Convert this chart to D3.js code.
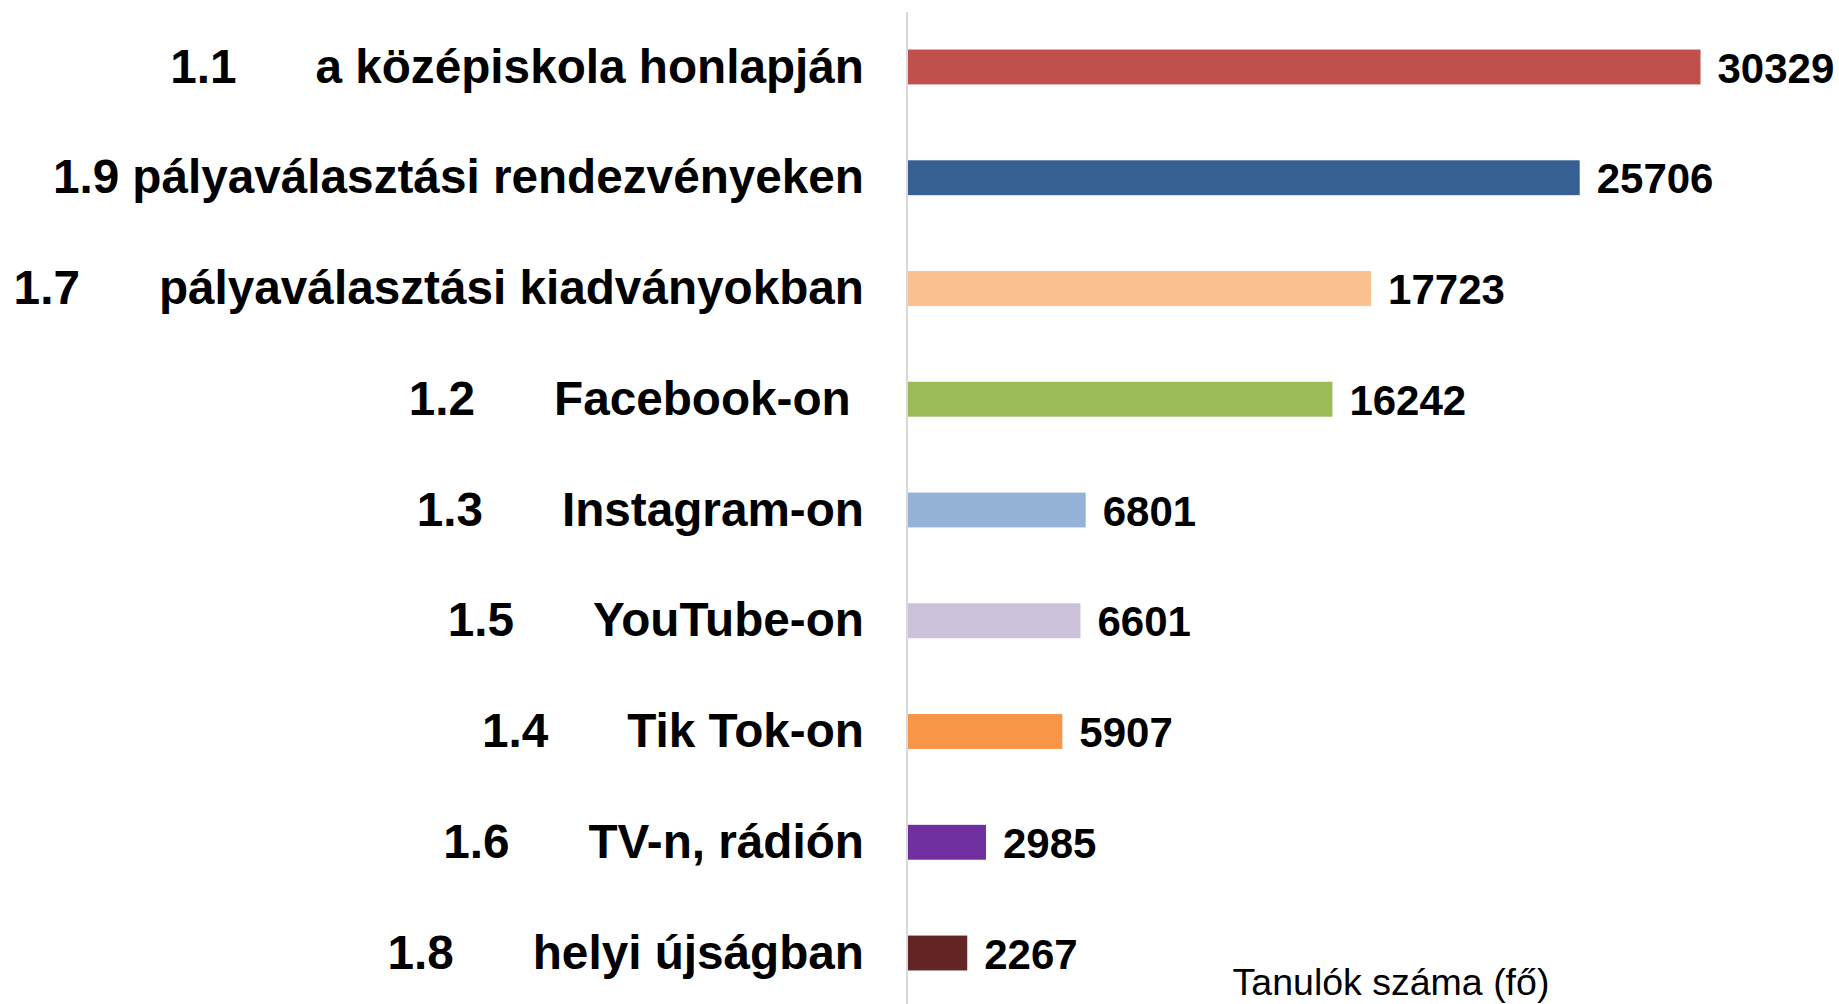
<!DOCTYPE html>
<html>
<head>
<meta charset="utf-8">
<script src="https://cdn.jsdelivr.net/npm/d3@7"></script>
<style>
  body { margin: 0; background: #fff; }
  svg text { font-family: "Liberation Sans", Arial, sans-serif; white-space: pre; }
</style>
</head>
<body>
<div id="chart"></div>
<script>
// data
const codes = ["1.1", "1.9", "1.7", "1.2", "1.3", "1.5", "1.4", "1.6", "1.8"];
const names = ["a középiskola honlapján", "pályaválasztási rendezvényeken", "pályaválasztási kiadványokban",
               "Facebook-on ", "Instagram-on", "YouTube-on", "Tik Tok-on", "TV-n, rádión", "helyi újságban"];
const values = [30329, 25706, 17723, 16242, 6801, 6601, 5907, 2985, 2267];
const colors = ["#C0504D", "#376092", "#FAC090", "#9BBB59", "#95B3D7", "#CCC1DA", "#F79646", "#7030A0", "#632523"];
const axisTitle = "Tanulók száma (fő)";

const width = 1839, height = 1004;
const margin = {top: 12, left: 908};

const svg = d3.select("#chart")
    .append("svg")
    .attr("width", width)
    .attr("height", height);

const yScale = d3.scaleBand()
    .domain(codes)
    .range([11.6, 1008.4])
    .paddingInner(0.685)
    .paddingOuter(0.3425);

const xScale = d3.scaleLinear()
    .domain([0, 35000])
    .range([margin.left, margin.left + 35000 * 0.02613]);

// bars
svg.selectAll("rect.bar")
    .data(values)
    .join("rect")
    .attr("class", "bar")
    .attr("x", xScale(0))
    .attr("y", (d, i) => yScale(codes[i]))
    .attr("width", d => xScale(d) - xScale(0))
    .attr("height", yScale.bandwidth())
    .attr("fill", (d, i) => colors[i]);

// vertical axis line
svg.append("line")
    .attr("x1", xScale(0) - 1).attr("x2", xScale(0) - 1)
    .attr("y1", margin.top).attr("y2", height)
    .attr("stroke", "#d9d9d9")
    .attr("stroke-width", 2);

// category labels: code, gap, name (right aligned)
const labels = svg.selectAll("text.cat")
    .data(codes)
    .join("text")
    .attr("class", "cat")
    .attr("x", 864)
    .attr("y", d => yScale(d) + yScale.bandwidth() / 2)
    .attr("dy", "0.33em")
    .attr("text-anchor", "end")
    .attr("font-size", 47.7)
    .attr("font-weight", "bold")
    .attr("fill", "#000");

labels.append("tspan").text(d => d);
labels.append("tspan")
    .attr("dx", (d, i) => i === 1 ? 13 : 79)
    .text((d, i) => names[i]);

// value labels
svg.selectAll("text.val")
    .data(values)
    .join("text")
    .attr("class", "val")
    .attr("x", d => xScale(d) + 17)
    .attr("y", (d, i) => yScale(codes[i]) + yScale.bandwidth() / 2)
    .attr("dy", "0.37em")
    .attr("font-size", 42)
    .attr("font-weight", "bold")
    .attr("fill", "#000")
    .text(d => d);

// axis title
svg.append("text")
    .attr("x", 1391)
    .attr("y", 995)
    .attr("text-anchor", "middle")
    .attr("font-size", 37.5)
    .attr("fill", "#000")
    .text(axisTitle);
</script>
</body>
</html>
